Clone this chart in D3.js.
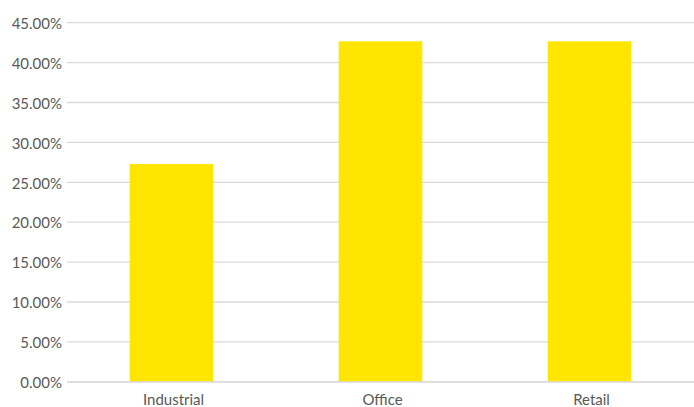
<!DOCTYPE html>
<html>
<head>
<meta charset="utf-8">
<script src="https://cdn.jsdelivr.net/npm/d3@7"></script>
<style>
  html, body { margin: 0; padding: 0; background: #fff; }
  svg { display: block; }
  text { font-family: Lato, "Noto Sans", sans-serif; fill: #595959; }
</style>
</head>
<body>
<svg id="chart" width="694" height="407"></svg>
<script>
// Share by property sector
const categories = ["Industrial", "Office", "Retail"];
const shares = [27.3, 42.67, 42.67];
const yTicks = [0, 5, 10, 15, 20, 25, 30, 35, 40, 45];

const width = 694, height = 407;
const margin = { top: 23, right: 0, bottom: 25, left: 67 };

const svg = d3.select("#chart");

const x = d3.scaleBand()
  .domain(categories)
  .range([margin.left, width - margin.right])
  .paddingInner(0.6)
  .paddingOuter(0.3);

const y = d3.scaleLinear()
  .domain([0, 45])
  .range([height - margin.bottom - 0.2, margin.top - 0.3]);

// horizontal gridlines
svg.append("g")
  .selectAll("line")
  .data(yTicks)
  .join("line")
  .attr("x1", margin.left)
  .attr("x2", width - margin.right)
  .attr("y1", d => y(d))
  .attr("y2", d => y(d))
  .attr("stroke", "#d9d9d9")
  .attr("stroke-width", 1.3);

// y tick labels
svg.append("g")
  .selectAll("text")
  .data(yTicks)
  .join("text")
  .attr("x", margin.left - 5)
  .attr("y", d => y(d) + 1)
  .attr("dy", "0.35em")
  .attr("text-anchor", "end")
  .style("font-size", "15px")
  .text(d => d.toFixed(2) + "%");

// bars
svg.append("g")
  .selectAll("rect")
  .data(categories.map((c, i) => ({ c, v: shares[i] })))
  .join("rect")
  .attr("x", d => x(d.c))
  .attr("width", x.bandwidth())
  .attr("y", d => y(d.v))
  .attr("height", d => y(0) - y(d.v))
  .attr("fill", "#ffe600");

// baseline
svg.append("line")
  .attr("x1", margin.left)
  .attr("x2", width - margin.right)
  .attr("y1", y(0))
  .attr("y2", y(0))
  .attr("stroke", "#d9d9d9")
  .attr("stroke-width", 1.3);

// category labels
svg.append("g")
  .selectAll("text")
  .data(categories)
  .join("text")
  .attr("x", d => x(d) + x.bandwidth() / 2 + 2)
  .attr("y", height - 2.5)
  .attr("text-anchor", "middle")
  .style("font-size", "15px")
  .text(d => d);
</script>
</body>
</html>
